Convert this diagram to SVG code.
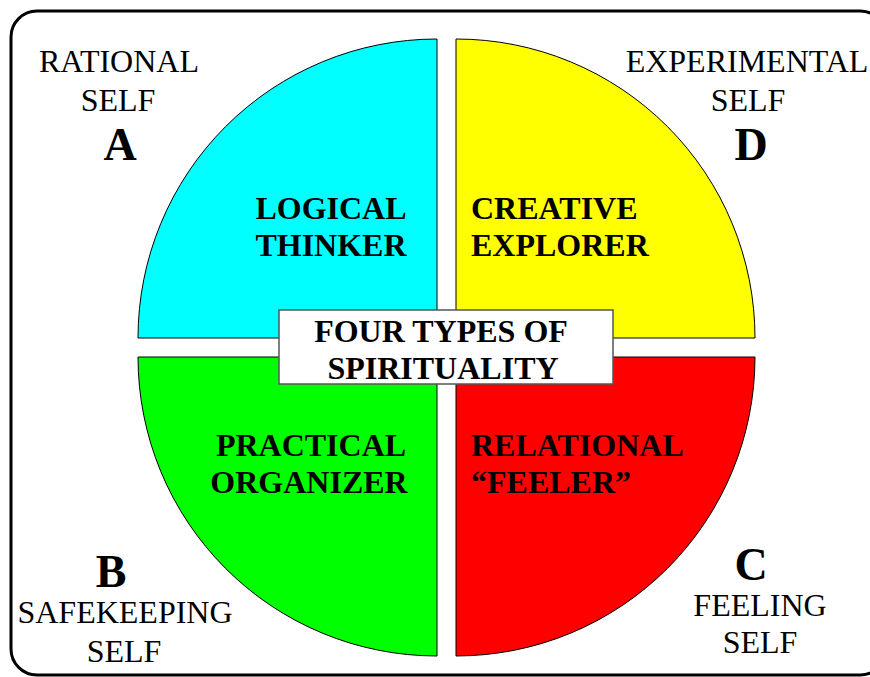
<svg xmlns="http://www.w3.org/2000/svg" width="870" height="677" viewBox="0 0 870 677">
<style>
.q{stroke:#000;stroke-width:1}
.t{font-family:"Liberation Serif","Times New Roman",serif;font-size:32px;fill:#000;text-anchor:middle}
.b{font-family:"Liberation Serif","Times New Roman",serif;font-size:32px;font-weight:bold;fill:#000}
.L{font-family:"Liberation Serif","Times New Roman",serif;font-size:46px;font-weight:bold;fill:#000;text-anchor:middle}
</style>
<rect width="870" height="677" fill="#fff"/>
<rect x="11" y="11" width="875" height="664" rx="26" fill="none" stroke="#000" stroke-width="3"/>
<g id="quadA"><path class="q" d="M437,338 L138,338 A299,299 0 0 1 437,39 Z" fill="#00ffff"/>
<text class="b" x="331" y="219" text-anchor="middle">LOGICAL</text><text class="b" x="331" y="256" text-anchor="middle">THINKER</text></g>
<g id="quadD"><path class="q" d="M456,338 L456,39 A299,299 0 0 1 755,338 Z" fill="#ffff00"/>
<text class="b" x="471" y="219">CREATIVE</text><text class="b" x="471" y="256">EXPLORER</text></g>
<g id="quadB"><path class="q" d="M437,357 L437,656 A299,299 0 0 1 138,357 Z" fill="#00ff00"/>
<text class="b" x="311" y="456" text-anchor="middle">PRACTICAL</text><text class="b" x="309" y="493" text-anchor="middle">ORGANIZER</text></g>
<g id="quadC"><path class="q" d="M456,357 L755,357 A299,299 0 0 1 456,656 Z" fill="#ff0000"/>
<text class="b" x="471" y="456">RELATIONAL</text><text class="b" x="471" y="493">“FEELER”</text></g>
<g id="center"><rect x="279" y="310" width="334" height="74" fill="#fff" stroke="#555" stroke-width="1.5"/>
<text class="b" x="441" y="342" text-anchor="middle">FOUR TYPES OF</text><text class="b" x="443" y="379" text-anchor="middle">SPIRITUALITY</text></g>
<g id="labelA"><text class="t" x="119" y="72">RATIONAL</text><text class="t" x="118" y="111">SELF</text><text class="L" x="120" y="160">A</text></g>
<g id="labelD"><text class="t" x="747" y="72">EXPERIMENTAL</text><text class="t" x="748" y="111">SELF</text><text class="L" x="751" y="160">D</text></g>
<g id="labelB"><text class="L" x="111" y="587">B</text><text class="t" x="125" y="623">SAFEKEEPING</text><text class="t" x="124" y="662">SELF</text></g>
<g id="labelC"><text class="L" x="751" y="580">C</text><text class="t" x="760" y="616">FEELING</text><text class="t" x="760" y="653">SELF</text></g>
</svg>
